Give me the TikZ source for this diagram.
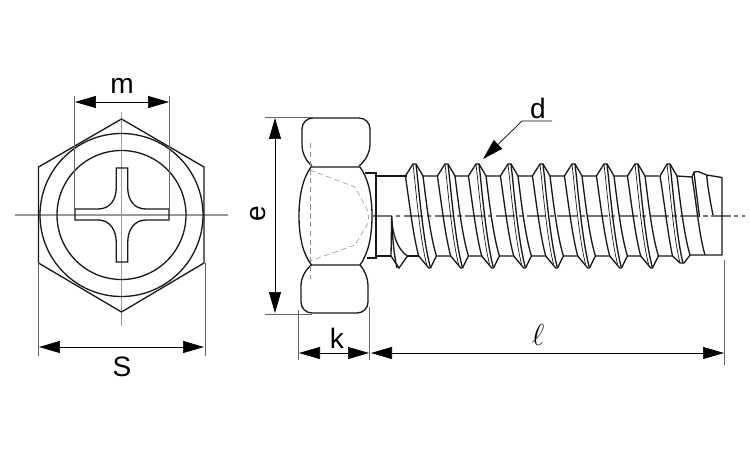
\documentclass[tikz,border=0pt]{standalone}
\usepackage{fontspec}
\setmainfont{Liberation Sans}
\usetikzlibrary{arrows.meta, positioning}
\tikzset{
  outline/.style={line width=0.75pt, black!90},
  centerline/.style={line width=0.6pt, black!40},
  axisline/.style={line width=1pt, black!55, dash pattern=on 11pt off 2pt on 2.5pt off 2pt},
  hidden/.style={line width=0.3pt, black!45, densely dashed},
  extline/.style={line width=0.35pt, black!60},
  dimline/.style={line width=0.4pt, black, {Triangle[length=0.42cm, width=0.24cm]}-{Triangle[length=0.42cm, width=0.24cm]}},
  dimtext/.style={font=\fontsize{16}{16}\selectfont, inner sep=0pt}
}
\begin{document}
\begin{tikzpicture}[x=0.02cm, y=-0.02cm]
      \useasboundingbox (0,0) rectangle (750,450);

      % Define points
      \coordinate (C) at (121.5, 215);
      \coordinate (M1) at (75, 102);
      \coordinate (M2) at (169, 102);
      \coordinate (S1) at (39, 347);
      \coordinate (S2) at (204, 347);
      \coordinate (E1) at (275, 118);
      \coordinate (E2) at (275, 313);
      \coordinate (K1) at (299, 353);
      \coordinate (K2) at (369, 353);
      \coordinate (L1) at (371, 353);
      \coordinate (L2) at (724, 353);
      \coordinate (D1) at (483, 159);
      \coordinate (D2) at (522, 121);
      \coordinate (D3) at (552, 121);

      % Center lines
      \draw[centerline] (15, 215) -- (228, 215);
      \draw[centerline, line width=0.3pt] (121.5, 112) -- (121.5, 326);
      \draw[axisline] (373, 216) -- (745, 216);

      % Draw front view
      \draw[outline] (121.5, 119) -- (204, 167) -- (204, 263) -- (121.5, 312) -- (38.5, 263) -- (38.5, 167) -- cycle;
      \draw[outline] (C) circle (81.5);
      \draw[outline] (C) circle (64.5);
      \draw[outline] (116.3, 168) -- (127.7, 168) -- (127.7, 187)
        .. controls (127.7, 200) and (134, 209) .. (146, 209) -- (169, 209) -- (169, 220) -- (146, 220)
        .. controls (134, 220) and (127.7, 230) .. (127.7, 243) -- (127.7, 262) -- (116.3, 262) -- (116.3, 243)
        .. controls (116.3, 230) and (110, 220) .. (98, 220) -- (75, 220) -- (75, 209) -- (98, 209)
        .. controls (110, 209) and (116.3, 200) .. (116.3, 187) -- cycle;

      % Draw head
      \draw[outline, rounded corners=0.22cm] (312, 166) -- (302, 157) -- (302, 118) -- (370, 118) -- (370, 156) -- (359, 166);
      \draw[outline, rounded corners=0.22cm] (311.5, 265) -- (301, 274) -- (301, 313) -- (368, 313) -- (368, 274) -- (360, 265);
      \draw[outline] (311, 167) -- (360, 167) .. controls (368, 178) and (372, 195) .. (372, 216)
        .. controls (372, 237) and (368, 254) .. (360, 265) -- (311.5, 265)
        .. controls (303, 254) and (299, 237) .. (299, 216) .. controls (299, 195) and (303, 178) .. cycle;
      \draw[outline] (365, 173) -- (376, 173) -- (376, 258) -- (367, 258);
      \draw[hidden] (310, 143) -- (310, 279);
      \draw[hidden] (310, 170) -- (355, 187) -- (369, 213) -- (368, 223) -- (355, 245) -- (310, 261);

      % Draw shank
      \draw[outline] (376, 176) -- (407.4, 176);
      \draw[outline] (376, 256) -- (391, 256);
      \draw[outline] (407.5, 256) -- (418.7, 256);
      \draw[outline] (391.7, 216) .. controls (392, 235) and (398, 250) .. (407.5, 256) -- (399, 268) -- (391, 256) -- (391.7, 216);
      \draw[outline] (391.7, 216) .. controls (392, 235) and (394, 255) .. (397, 268);

      % Draw thread
      \foreach \c in {413, 445, 476, 508, 540, 572, 604, 635} {
        \begin{scope}[shift={(\c, 0)}]
          \draw[outline] (-7.6, 176) -- (0, 164) -- (3, 164) -- (10, 176) -- (24, 176);
          \draw[outline] (-7.6, 176) .. controls (-4, 200) and (0, 235) .. (5.7, 256) -- (15.7, 268) -- (17.5, 268) -- (23.4, 256) -- (37.3, 256);
          \draw[outline] (3, 164) .. controls (6, 190) and (10, 240) .. (17.5, 268);
          \draw[outline, line width=0.4pt] (0, 164) .. controls (3, 190) and (7, 240) .. (14, 266);
          \draw[outline] (10, 176) .. controls (13, 200) and (17, 235) .. (23.4, 256);
        \end{scope}
      }

      % Draw tip
      \draw[outline] (660, 176) -- (667, 164) -- (670, 164) -- (677, 176) -- (692, 177);
      \draw[outline] (660, 176) .. controls (664, 200) and (668, 235) .. (672.5, 256) -- (680, 263) -- (684, 263) -- (690, 255) -- (722, 255);
      \draw[outline] (670, 164) .. controls (673, 190) and (677, 240) .. (683, 263);
      \draw[outline, line width=0.4pt] (667, 164) .. controls (670, 190) and (674, 240) .. (680, 263);
      \draw[outline] (677, 176) .. controls (680, 200) and (684, 235) .. (690, 255);
      \draw[outline] (692, 177) -- (694, 172) -- (698, 171.5) -- (706.7, 175) -- (722, 177.5) -- (722, 255);
      \draw[outline] (692, 177) .. controls (696, 200) and (699, 235) .. (705, 255);
      \draw[outline] (694, 172) .. controls (696, 190) and (698, 205) .. (699.5, 217);
      \draw[outline] (706.7, 175) .. controls (708, 190) and (711, 205) .. (713, 215);

      % Extension lines
      \draw[extline] (74, 96) -- (74, 209);
      \draw[extline] (169, 96) -- (169, 209);
      \draw[extline] (38, 263) -- (38, 356);
      \draw[extline] (205, 263) -- (205, 356);
      \draw[extline] (265, 117) -- (312, 117);
      \draw[extline] (265, 314) -- (312, 314);
      \draw[extline] (298, 310) -- (298, 360);
      \draw[extline] (369, 307) -- (369, 360);
      \draw[extline] (724, 260) -- (724, 365);

      % Draw dimensions
      \draw[dimline] (M1) -- (M2);
      \draw[dimline] (S1) -- (S2);
      \draw[dimline] (E1) -- (E2);
      \draw[dimline] (K1) -- (K2);
      \draw[dimline] (L1) -- (L2);
      \draw[line width=0.4pt, {Triangle[length=0.42cm, width=0.24cm]}-] (D1) -- (D2) -- (D3);

      % Label dimensions
      \node[dimtext] (mlabel) at (122, 86) {m};
      \node[dimtext] (slabel) at (122, 367) {S};
      \node[dimtext, rotate=90] (elabel) at (258, 214) {e};
      \node[dimtext] (klabel) at (337, 338) {k};
      \node[dimtext] (llabel) at (538, 335) {$\ell$};
      \node[dimtext] (dlabel) at (538, 108) {d};
  \end{tikzpicture}
\end{document}
